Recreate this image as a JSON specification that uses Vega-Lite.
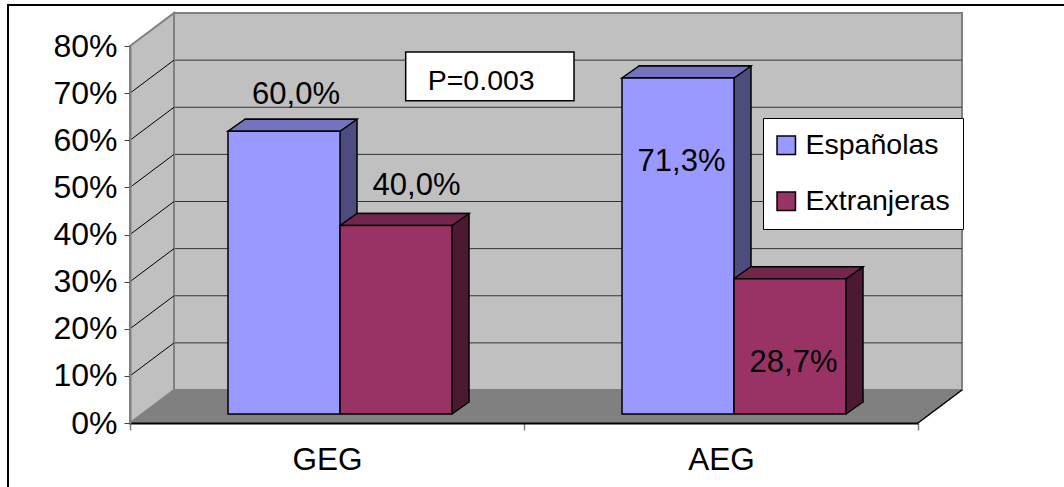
{
  "$schema": "https://vega.github.io/schema/vega-lite/v6.json",
  "width": 788,
  "height": 377,
  "autosize": {"type": "none"},
  "padding": {"left": 130, "top": 46, "right": 146, "bottom": 64},
  "background": "white",
  "config": {
    "view": {"stroke": null},
    "font": "Liberation Sans",
    "locale": {"number": {"decimal": ",", "thousands": ".", "grouping": [3], "currency": ["", " €"]}}
  },
  "resolve": {"scale": {"x": "independent"}},
  "layer": [
    {
      "data": {"values": [{}]},
      "layer": [
        {
          "mark": {"type": "rect", "fill": "white", "fillOpacity": 0, "stroke": "black", "strokeWidth": 2},
          "encoding": {
            "x": {"datum": -0.3096, "type": "quantitative", "scale": {"domain": [0, 2], "nice": false, "zero": false}, "axis": null},
            "x2": {"datum": 2.7},
            "y": {"datum": 0.887, "type": "quantitative", "scale": {"domain": [0, 0.8], "nice": false, "zero": false}, "title": null},
            "y2": {"datum": -0.3}
          }
        },
        {
          "mark": {"type": "rect", "fill": "#C0C0C0", "stroke": "#808080", "strokeWidth": 2, "xOffset": 44, "x2Offset": 44, "yOffset": -33, "y2Offset": -33},
          "encoding": {
            "x": {"datum": 0, "type": "quantitative", "scale": {"domain": [0, 2], "nice": false, "zero": false}, "axis": null},
            "x2": {"datum": 2},
            "y": {"datum": 0.8, "type": "quantitative", "scale": {"domain": [0, 0.8], "nice": false, "zero": false}, "title": null},
            "y2": {"datum": 0}
          }
        },
        {"mark": {"type": "rule", "color": "#333333", "strokeWidth": 1, "xOffset": 44, "x2Offset": 44, "yOffset": -33},
         "encoding": {"x": {"datum": 0, "type": "quantitative", "scale": {"domain": [0, 2], "nice": false, "zero": false}, "axis": null}, "x2": {"datum": 2}, "y": {"datum": 0.1, "type": "quantitative", "scale": {"domain": [0, 0.8], "nice": false, "zero": false}, "title": null}}},
        {"mark": {"type": "rule", "color": "#333333", "strokeWidth": 1, "xOffset": 44, "x2Offset": 44, "yOffset": -33},
         "encoding": {"x": {"datum": 0, "type": "quantitative", "scale": {"domain": [0, 2], "nice": false, "zero": false}, "axis": null}, "x2": {"datum": 2}, "y": {"datum": 0.2, "type": "quantitative", "scale": {"domain": [0, 0.8], "nice": false, "zero": false}, "title": null}}},
        {"mark": {"type": "rule", "color": "#333333", "strokeWidth": 1, "xOffset": 44, "x2Offset": 44, "yOffset": -33},
         "encoding": {"x": {"datum": 0, "type": "quantitative", "scale": {"domain": [0, 2], "nice": false, "zero": false}, "axis": null}, "x2": {"datum": 2}, "y": {"datum": 0.3, "type": "quantitative", "scale": {"domain": [0, 0.8], "nice": false, "zero": false}, "title": null}}},
        {"mark": {"type": "rule", "color": "#333333", "strokeWidth": 1, "xOffset": 44, "x2Offset": 44, "yOffset": -33},
         "encoding": {"x": {"datum": 0, "type": "quantitative", "scale": {"domain": [0, 2], "nice": false, "zero": false}, "axis": null}, "x2": {"datum": 2}, "y": {"datum": 0.4, "type": "quantitative", "scale": {"domain": [0, 0.8], "nice": false, "zero": false}, "title": null}}},
        {"mark": {"type": "rule", "color": "#333333", "strokeWidth": 1, "xOffset": 44, "x2Offset": 44, "yOffset": -33},
         "encoding": {"x": {"datum": 0, "type": "quantitative", "scale": {"domain": [0, 2], "nice": false, "zero": false}, "axis": null}, "x2": {"datum": 2}, "y": {"datum": 0.5, "type": "quantitative", "scale": {"domain": [0, 0.8], "nice": false, "zero": false}, "title": null}}},
        {"mark": {"type": "rule", "color": "#333333", "strokeWidth": 1, "xOffset": 44, "x2Offset": 44, "yOffset": -33},
         "encoding": {"x": {"datum": 0, "type": "quantitative", "scale": {"domain": [0, 2], "nice": false, "zero": false}, "axis": null}, "x2": {"datum": 2}, "y": {"datum": 0.6, "type": "quantitative", "scale": {"domain": [0, 0.8], "nice": false, "zero": false}, "title": null}}},
        {"mark": {"type": "rule", "color": "#333333", "strokeWidth": 1, "xOffset": 44, "x2Offset": 44, "yOffset": -33},
         "encoding": {"x": {"datum": 0, "type": "quantitative", "scale": {"domain": [0, 2], "nice": false, "zero": false}, "axis": null}, "x2": {"datum": 2}, "y": {"datum": 0.7, "type": "quantitative", "scale": {"domain": [0, 0.8], "nice": false, "zero": false}, "title": null}}},
        {
          "mark": {"type": "point", "shape": "M0,0L44,-33L44,-410L0,-377Z", "size": 4, "filled": true, "fill": "#C0C0C0", "stroke": "#808080", "strokeWidth": 2, "opacity": 1},
          "encoding": {
            "x": {"datum": 0, "type": "quantitative", "scale": {"domain": [0, 2], "nice": false, "zero": false}, "axis": null},
            "y": {"datum": 0, "type": "quantitative", "scale": {"domain": [0, 0.8], "nice": false, "zero": false}, "title": null}
          }
        },
        {"mark": {"type": "rule", "color": "black", "strokeWidth": 1, "x2Offset": 44, "y2Offset": -33},
         "encoding": {"x": {"datum": 0, "type": "quantitative", "scale": {"domain": [0, 2], "nice": false, "zero": false}, "axis": null}, "x2": {"datum": 0}, "y": {"datum": 0.1, "type": "quantitative", "scale": {"domain": [0, 0.8], "nice": false, "zero": false}, "title": null}, "y2": {"datum": 0.1}}},
        {"mark": {"type": "rule", "color": "black", "strokeWidth": 1, "x2Offset": 44, "y2Offset": -33},
         "encoding": {"x": {"datum": 0, "type": "quantitative", "scale": {"domain": [0, 2], "nice": false, "zero": false}, "axis": null}, "x2": {"datum": 0}, "y": {"datum": 0.2, "type": "quantitative", "scale": {"domain": [0, 0.8], "nice": false, "zero": false}, "title": null}, "y2": {"datum": 0.2}}},
        {"mark": {"type": "rule", "color": "black", "strokeWidth": 1, "x2Offset": 44, "y2Offset": -33},
         "encoding": {"x": {"datum": 0, "type": "quantitative", "scale": {"domain": [0, 2], "nice": false, "zero": false}, "axis": null}, "x2": {"datum": 0}, "y": {"datum": 0.3, "type": "quantitative", "scale": {"domain": [0, 0.8], "nice": false, "zero": false}, "title": null}, "y2": {"datum": 0.3}}},
        {"mark": {"type": "rule", "color": "black", "strokeWidth": 1, "x2Offset": 44, "y2Offset": -33},
         "encoding": {"x": {"datum": 0, "type": "quantitative", "scale": {"domain": [0, 2], "nice": false, "zero": false}, "axis": null}, "x2": {"datum": 0}, "y": {"datum": 0.4, "type": "quantitative", "scale": {"domain": [0, 0.8], "nice": false, "zero": false}, "title": null}, "y2": {"datum": 0.4}}},
        {"mark": {"type": "rule", "color": "black", "strokeWidth": 1, "x2Offset": 44, "y2Offset": -33},
         "encoding": {"x": {"datum": 0, "type": "quantitative", "scale": {"domain": [0, 2], "nice": false, "zero": false}, "axis": null}, "x2": {"datum": 0}, "y": {"datum": 0.5, "type": "quantitative", "scale": {"domain": [0, 0.8], "nice": false, "zero": false}, "title": null}, "y2": {"datum": 0.5}}},
        {"mark": {"type": "rule", "color": "black", "strokeWidth": 1, "x2Offset": 44, "y2Offset": -33},
         "encoding": {"x": {"datum": 0, "type": "quantitative", "scale": {"domain": [0, 2], "nice": false, "zero": false}, "axis": null}, "x2": {"datum": 0}, "y": {"datum": 0.6, "type": "quantitative", "scale": {"domain": [0, 0.8], "nice": false, "zero": false}, "title": null}, "y2": {"datum": 0.6}}},
        {"mark": {"type": "rule", "color": "black", "strokeWidth": 1, "x2Offset": 44, "y2Offset": -33},
         "encoding": {"x": {"datum": 0, "type": "quantitative", "scale": {"domain": [0, 2], "nice": false, "zero": false}, "axis": null}, "x2": {"datum": 0}, "y": {"datum": 0.7, "type": "quantitative", "scale": {"domain": [0, 0.8], "nice": false, "zero": false}, "title": null}, "y2": {"datum": 0.7}}},
        {
          "mark": {"type": "point", "shape": "M0,0L788,0L832,-33L44,-33Z", "size": 4, "filled": true, "fill": "#808080", "strokeWidth": 0, "opacity": 1},
          "encoding": {
            "x": {"datum": 0, "type": "quantitative", "scale": {"domain": [0, 2], "nice": false, "zero": false}, "axis": null},
            "y": {"datum": 0, "type": "quantitative", "scale": {"domain": [0, 0.8], "nice": false, "zero": false}, "title": null}
          }
        },
        {"mark": {"type": "rule", "color": "black", "strokeWidth": 1.5, "x2Offset": 44, "y2Offset": -33},
         "encoding": {"x": {"datum": 2, "type": "quantitative", "scale": {"domain": [0, 2], "nice": false, "zero": false}, "axis": null}, "x2": {"datum": 2}, "y": {"datum": 0, "type": "quantitative", "scale": {"domain": [0, 0.8], "nice": false, "zero": false}, "title": null}, "y2": {"datum": 0}}},
        {
          "mark": {"type": "rect", "fill": "white", "stroke": "black", "strokeWidth": 1.5},
          "encoding": {
            "x": {"datum": 0.6997, "type": "quantitative", "scale": {"domain": [0, 2], "nice": false, "zero": false}, "axis": null},
            "x2": {"datum": 1.1269},
            "y": {"datum": 0.7873, "type": "quantitative", "scale": {"domain": [0, 0.8], "nice": false, "zero": false}, "title": null},
            "y2": {"datum": 0.6839}
          }
        },
        {
          "mark": {"type": "text", "align": "left", "baseline": "alphabetic", "fontSize": 28.5, "color": "black", "font": "Liberation Sans"},
          "encoding": {
            "x": {"datum": 0.7556, "type": "quantitative", "scale": {"domain": [0, 2], "nice": false, "zero": false}, "axis": null},
            "y": {"datum": 0.7066, "type": "quantitative", "scale": {"domain": [0, 0.8], "nice": false, "zero": false}, "title": null},
            "text": {"value": "P=0.003"}
          }
        }
      ]
    },
    {
      "data": {
        "values": [
          {"grupo": "GEG", "serie": "Españolas", "valor": 0.600},
          {"grupo": "GEG", "serie": "Extranjeras", "valor": 0.400},
          {"grupo": "AEG", "serie": "Españolas", "valor": 0.713},
          {"grupo": "AEG", "serie": "Extranjeras", "valor": 0.287}
        ]
      },
      "resolve": {"scale": {"xOffset": "independent"}},
      "layer": [
        {
          "mark": {"type": "bar", "stroke": "black", "strokeWidth": 1.5, "opacity": 1, "yOffset": -21, "y2Offset": -21},
          "encoding": {
            "x": {"field": "grupo", "type": "nominal", "title": null, "scale": {"domain": ["GEG", "AEG"], "paddingInner": 0, "paddingOuter": 0}},
            "xOffset": {"field": "serie", "type": "nominal", "scale": {"type": "band", "domain": ["Españolas", "Extranjeras"], "paddingInner": 0, "paddingOuter": 0.7589, "align": 0.6765}},
            "y": {"field": "valor", "type": "quantitative", "title": null, "stack": null, "scale": {"domain": [0, 0.8], "nice": false, "zero": false}},
            "y2": {"datum": 0},
            "fill": {"condition": {"test": "datum.serie === 'Españolas'", "value": "#4C4C7F"}, "value": "#4C1933"}
          }
        },
        {
          "mark": {"type": "point", "shape": "M56,0L73,-12L73,-13L56,-13Z", "size": 4, "filled": true, "strokeWidth": 0, "opacity": 1, "yOffset": -9},
          "encoding": {
            "x": {"field": "grupo", "type": "nominal", "title": null, "scale": {"domain": ["GEG", "AEG"], "paddingInner": 0, "paddingOuter": 0}},
            "xOffset": {"field": "serie", "type": "nominal", "scale": {"type": "band", "domain": ["Españolas", "Extranjeras"], "paddingInner": 0, "paddingOuter": 0.7589, "align": 0.5765}},
            "y": {"datum": 0, "type": "quantitative", "title": null, "scale": {"domain": [0, 0.8], "nice": false, "zero": false}},
            "fill": {"condition": {"test": "datum.serie === 'Españolas'", "value": "#4C4C7F"}, "value": "#4C1933"}
          }
        },
        {
          "mark": {"type": "point", "shape": "M56,0L73,-12", "size": 4, "filled": false, "stroke": "black", "strokeWidth": 1.5, "opacity": 1, "yOffset": -9},
          "encoding": {
            "x": {"field": "grupo", "type": "nominal", "title": null, "scale": {"domain": ["GEG", "AEG"], "paddingInner": 0, "paddingOuter": 0}},
            "xOffset": {"field": "serie", "type": "nominal", "scale": {"type": "band", "domain": ["Españolas", "Extranjeras"], "paddingInner": 0, "paddingOuter": 0.7589, "align": 0.5765}},
            "y": {"datum": 0, "type": "quantitative", "title": null, "scale": {"domain": [0, 0.8], "nice": false, "zero": false}}
          }
        },
        {
          "mark": {"type": "point", "shape": "M-56,0L56,0L73,-12L-39,-12Z", "size": 4, "filled": true, "stroke": "black", "strokeWidth": 1.5, "opacity": 1, "yOffset": -9},
          "encoding": {
            "x": {"field": "grupo", "type": "nominal", "title": null, "scale": {"domain": ["GEG", "AEG"], "paddingInner": 0, "paddingOuter": 0}},
            "xOffset": {"field": "serie", "type": "nominal", "scale": {"type": "band", "domain": ["Españolas", "Extranjeras"], "paddingInner": 0, "paddingOuter": 0.7589, "align": 0.5765}},
            "y": {"field": "valor", "type": "quantitative", "title": null, "scale": {"domain": [0, 0.8], "nice": false, "zero": false}},
            "fill": {"condition": {"test": "datum.serie === 'Españolas'", "value": "#7373BF"}, "value": "#73264C"}
          }
        },
        {
          "mark": {"type": "bar", "stroke": "black", "strokeWidth": 1.5, "opacity": 1, "yOffset": -9, "y2Offset": -9},
          "encoding": {
            "x": {
              "field": "grupo", "type": "nominal", "title": null,
              "scale": {"domain": ["GEG", "AEG"], "paddingInner": 0, "paddingOuter": 0},
              "axis": {"title": null, "tickBand": "extent", "labelAngle": 0, "labelAlign": "center", "labelBaseline": "top", "labelFont": "Liberation Sans", "labelFontSize": 31.5, "labelColor": "black", "labelPadding": 14, "tickSize": 7, "tickColor": "#808080", "tickWidth": 1.5, "domainColor": "black", "domainWidth": 2, "zindex": 1}
            },
            "xOffset": {"field": "serie", "type": "nominal", "scale": {"type": "band", "domain": ["Españolas", "Extranjeras"], "paddingInner": 0, "paddingOuter": 0.7589, "align": 0.5765}},
            "y": {
              "field": "valor", "type": "quantitative", "title": null, "stack": null,
              "scale": {"domain": [0, 0.8], "nice": false, "zero": false},
              "axis": {"title": null, "values": [0, 0.1, 0.2, 0.3, 0.4, 0.5, 0.6, 0.7, 0.8], "format": ".0%", "grid": false, "labelFont": "Liberation Sans", "labelFontSize": 32, "labelColor": "black", "labelPadding": 7, "tickSize": 6, "tickColor": "#404040", "tickWidth": 1, "domainColor": "#808080", "domainWidth": 2, "zindex": 1}
            },
            "y2": {"datum": 0},
            "fill": {
              "field": "serie", "type": "nominal",
              "scale": {"domain": ["Españolas", "Extranjeras"], "range": ["#9999FF", "#993366"]},
              "legend": {"title": null, "orient": "none", "legendX": 633, "legendY": 72, "fillColor": "white", "strokeColor": "black", "padding": 13, "symbolType": "square", "symbolSize": 340, "symbolOffset": -4, "symbolStrokeColor": "black", "symbolStrokeWidth": 1.5, "symbolOpacity": 1, "labelFont": "Liberation Sans", "labelFontSize": 28.5, "labelColor": "black", "labelOffset": 5, "rowPadding": 27}
            }
          }
        },
        {
          "transform": [{"filter": "datum.grupo === 'GEG' && datum.serie === 'Españolas'"}],
          "mark": {"type": "text", "align": "center", "baseline": "alphabetic", "fontSize": 31, "color": "black", "font": "Liberation Sans", "yOffset": -9, "dx": 12, "dy": -27},
          "encoding": {
            "x": {"field": "grupo", "type": "nominal", "title": null, "scale": {"domain": ["GEG", "AEG"], "paddingInner": 0, "paddingOuter": 0}},
            "xOffset": {"field": "serie", "type": "nominal", "scale": {"type": "band", "domain": ["Españolas", "Extranjeras"], "paddingInner": 0, "paddingOuter": 0.7589, "align": 0.5765}},
            "y": {"field": "valor", "type": "quantitative", "title": null, "scale": {"domain": [0, 0.8], "nice": false, "zero": false}},
            "text": {"field": "valor", "type": "quantitative", "format": ".1%"}
          }
        },
        {
          "transform": [{"filter": "datum.grupo === 'GEG' && datum.serie === 'Extranjeras'"}],
          "mark": {"type": "text", "align": "center", "baseline": "alphabetic", "fontSize": 31, "color": "black", "font": "Liberation Sans", "yOffset": -9, "dx": 20.5, "dy": -31},
          "encoding": {
            "x": {"field": "grupo", "type": "nominal", "title": null, "scale": {"domain": ["GEG", "AEG"], "paddingInner": 0, "paddingOuter": 0}},
            "xOffset": {"field": "serie", "type": "nominal", "scale": {"type": "band", "domain": ["Españolas", "Extranjeras"], "paddingInner": 0, "paddingOuter": 0.7589, "align": 0.5765}},
            "y": {"field": "valor", "type": "quantitative", "title": null, "scale": {"domain": [0, 0.8], "nice": false, "zero": false}},
            "text": {"field": "valor", "type": "quantitative", "format": ".1%"}
          }
        },
        {
          "transform": [{"filter": "datum.grupo === 'AEG'"}],
          "mark": {"type": "text", "align": "center", "baseline": "alphabetic", "fontSize": 31, "color": "black", "font": "Liberation Sans", "yOffset": -9, "dx": 3.5, "dy": 93},
          "encoding": {
            "x": {"field": "grupo", "type": "nominal", "title": null, "scale": {"domain": ["GEG", "AEG"], "paddingInner": 0, "paddingOuter": 0}},
            "xOffset": {"field": "serie", "type": "nominal", "scale": {"type": "band", "domain": ["Españolas", "Extranjeras"], "paddingInner": 0, "paddingOuter": 0.7589, "align": 0.5765}},
            "y": {"field": "valor", "type": "quantitative", "title": null, "scale": {"domain": [0, 0.8], "nice": false, "zero": false}},
            "text": {"field": "valor", "type": "quantitative", "format": ".1%"}
          }
        }
      ]
    }
  ]
}
